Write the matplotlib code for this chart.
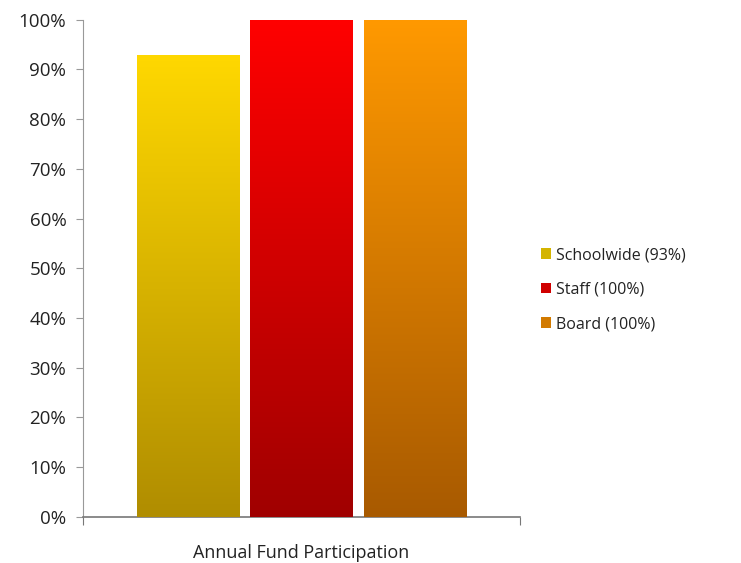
import numpy as np
import matplotlib
matplotlib.use('Agg')
import matplotlib.pyplot as plt
from matplotlib.colors import LinearSegmentedColormap
from matplotlib.ticker import PercentFormatter

plt.rcParams['font.family'] = ['Open Sans', 'DejaVu Sans']

# Data
groups = ['Schoolwide (93%)', 'Staff (100%)', 'Board (100%)']
values = [0.93, 1.00, 1.00]
category = 'Annual Fund Participation'
yticks = [0, 0.1, 0.2, 0.3, 0.4, 0.5, 0.6, 0.7, 0.8, 0.9, 1.0]

# gradient colours: (top, bottom)
grad_colors = [('#ffd800', '#b08d00'),
               ('#ff0000', '#a00000'),
               ('#ff9900', '#a85a00')]
legend_colors = ['#d4b400', '#d00000', '#d27a00']

fig = plt.figure(figsize=(7.41, 5.63), dpi=100)
ax = fig.add_axes([0.112, 0.082, 0.590, 0.883])

width = 0.235
spacing = 0.26
xs = [0.5 + (i - 1) * spacing for i in range(len(values))]

grad = np.linspace(1, 0, 256).reshape(-1, 1)
for x, v, (top, bot), lab, lc in zip(xs, values, grad_colors, groups, legend_colors):
    bar = ax.bar(x, v, width=width, color=lc, label=lab, zorder=2)[0]
    cmap = LinearSegmentedColormap.from_list('g', [bot, top])
    im = ax.imshow(grad, cmap=cmap, aspect='auto', vmin=0, vmax=1,
                   extent=[x - width / 2, x + width / 2, 0, v], zorder=3)
    im.set_clip_path(bar)

ax.set_xlim(0, 1)
ax.set_ylim(0, 1)
ax.set_yticks(yticks)
ax.yaxis.set_major_formatter(PercentFormatter(1.0, decimals=0))
ax.set_xticks([0, 1])
ax.set_xticklabels(['', ''])
ax.set_xlabel(category, fontsize=13, color='#222222', labelpad=10)

for s in ['top', 'right']:
    ax.spines[s].set_visible(False)
ax.spines['left'].set_color('#999999')
ax.spines['bottom'].set_color('#777777')
ax.spines['bottom'].set_linewidth(1.2)
ax.tick_params(axis='y', colors='#999999', length=5, labelcolor='#222222', labelsize=13.5, pad=7)
ax.tick_params(axis='x', colors='#777777', length=6)

ax.legend(loc='center left', bbox_to_anchor=(1.015, 0.457), frameon=False,
          fontsize=11.5, handlelength=0.65, handleheight=0.65, handletextpad=0.3,
          labelspacing=1.15, labelcolor='#222222')

fig.savefig('out.png', dpi=100)
